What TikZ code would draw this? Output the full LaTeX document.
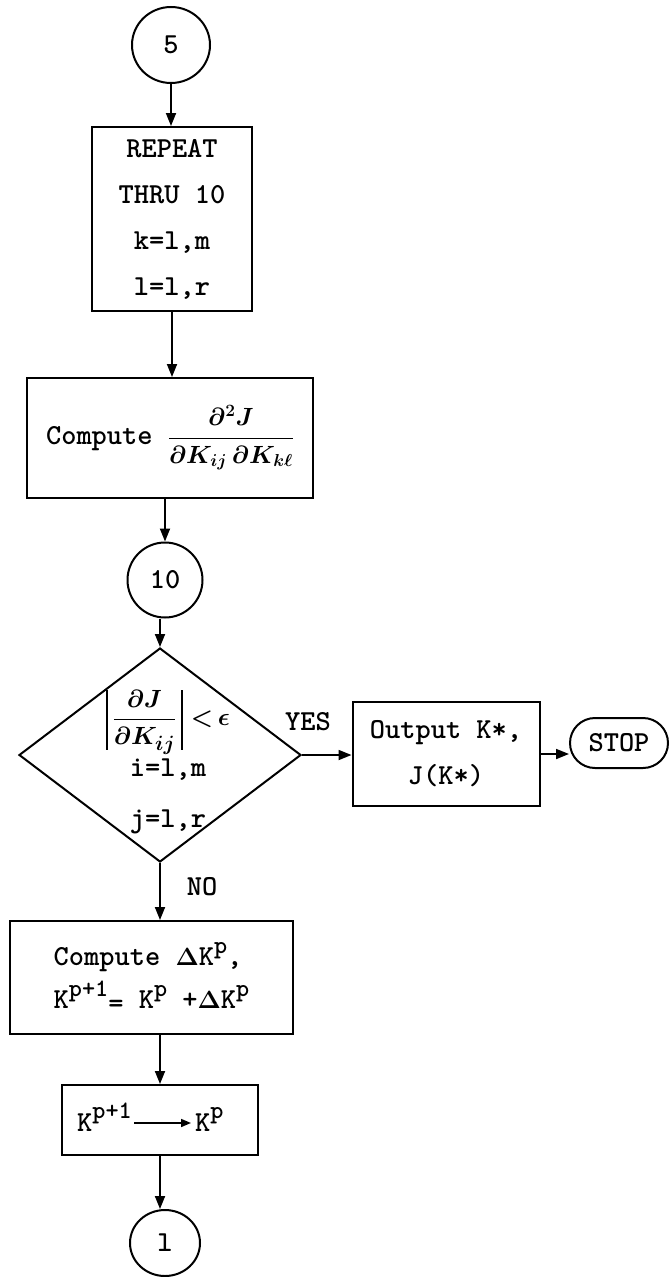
\documentclass[tikz,border=0pt]{standalone}
\usetikzlibrary{shapes.geometric,arrows.meta}
% raised typewriter exponent
\newcommand\tsup[1]{\raisebox{0.42em}{\fontsize{25}{25}\selectfont #1}}
% hand-drawn absolute-value bar
\newcommand\absbar{\rule[-24pt]{1.8pt}{60pt}}
\begin{document}
\begin{tikzpicture}[x=1pt,y=-1pt,
  font=\ttfamily\bfseries\fontsize{29}{46}\selectfont,
  box/.style={draw, line width=2pt, rectangle, inner sep=0pt},
  conn/.style={draw, ellipse, line width=2pt, inner sep=0pt},
  flow/.style={line width=1.8pt, -{Triangle[length=13pt,width=10pt]}},
  lbl/.style={inner sep=0pt}]
\useasboundingbox (0,0) rectangle (671,1277);

% main column
\node[conn, minimum width=78pt, minimum height=76pt] (c5) at (171,45) {5};
\node[box, minimum width=160pt, minimum height=184pt, align=center] (rep) at (172,219)
  {REPEAT\\THRU 10\\k=l,m\\l=l,r};
\node[box, minimum width=286pt, minimum height=120pt] (comp) at (170,438)
  {Compute {\fontsize{27}{30}\selectfont\boldmath$\displaystyle\frac{\partial^2 J}{\partial K_{ij}\,\partial K_{k\ell}}$}};
\node[conn, minimum width=75pt, minimum height=75pt] (c10) at (165,580) {10};
\node[draw, diamond, line width=2pt, minimum width=282pt, minimum height=214pt, inner sep=0pt] (dia) at (160,755) {};
\node[lbl, align=center] (diat) at (168,762)
  {{\fontsize{28}{30}\selectfont\boldmath$\absbar\,\displaystyle\frac{\partial J}{\partial K_{ij}}\,\absbar\;{<}\,\epsilon$}\\[4pt]
   i=l,m\\[5pt]j=l,r};
\node[box, minimum width=283pt, minimum height=113pt, align=left] (dk) at (151.5,977.5)
  {Compute {\boldmath$\Delta$}K\tsup{p},\\[-3pt]K\tsup{p+1}\raisebox{-4pt}{=} K\tsup{p} +{\boldmath$\Delta$}K\tsup{p}};
\node[box, minimum width=196pt, minimum height=70pt] (kb) at (160,1120) {};
\node[lbl, anchor=base east] (kp1) at (132,1131) {K\tsup{p+1}};
\node[lbl, anchor=base west] (kp) at (195,1131) {K\tsup{p}};
\node[conn, minimum width=70pt, minimum height=66pt] (c1) at (165,1243) {l};

% exit branch
\node[box, minimum width=187pt, minimum height=104pt, align=center] (out) at (446,754)
  {Output K*,\\J(K*)};
\node[draw, line width=2pt, rounded corners=25pt, minimum width=98pt, minimum height=50pt, inner sep=0pt] (stop) at (619,743) {STOP};

% branch labels
\node[lbl] (yes) at (308,722) {YES};
\node[lbl] (no) at (202,887) {NO};

% connectors
\draw[flow] (c5.south) -- (c5.south |- rep.north);
\draw[flow] (rep.south) -- (rep.south |- comp.north);
\draw[flow] (c10.north |- comp.south) -- (c10.north);
\draw[flow] (dia.north |- c10.south) -- (dia.north);
\draw[flow] (dia.east) -- (dia.east -| out.west);
\draw[flow] (out.east) -- (out.east -| stop.west);
\draw[flow] (dia.south) -- (dia.south |- dk.north);
\draw[flow] (kb.north |- dk.south) -- (kb.north);
\draw[flow] (kb.south) -- (kb.south |- c1.north);
\draw[line width=1.6pt, -{Triangle[length=10pt,width=8pt]}]
  ([xshift=2pt,yshift=8pt]kp1.base east) -- ([xshift=-4pt,yshift=8pt]kp.base west);
\end{tikzpicture}
\end{document}
